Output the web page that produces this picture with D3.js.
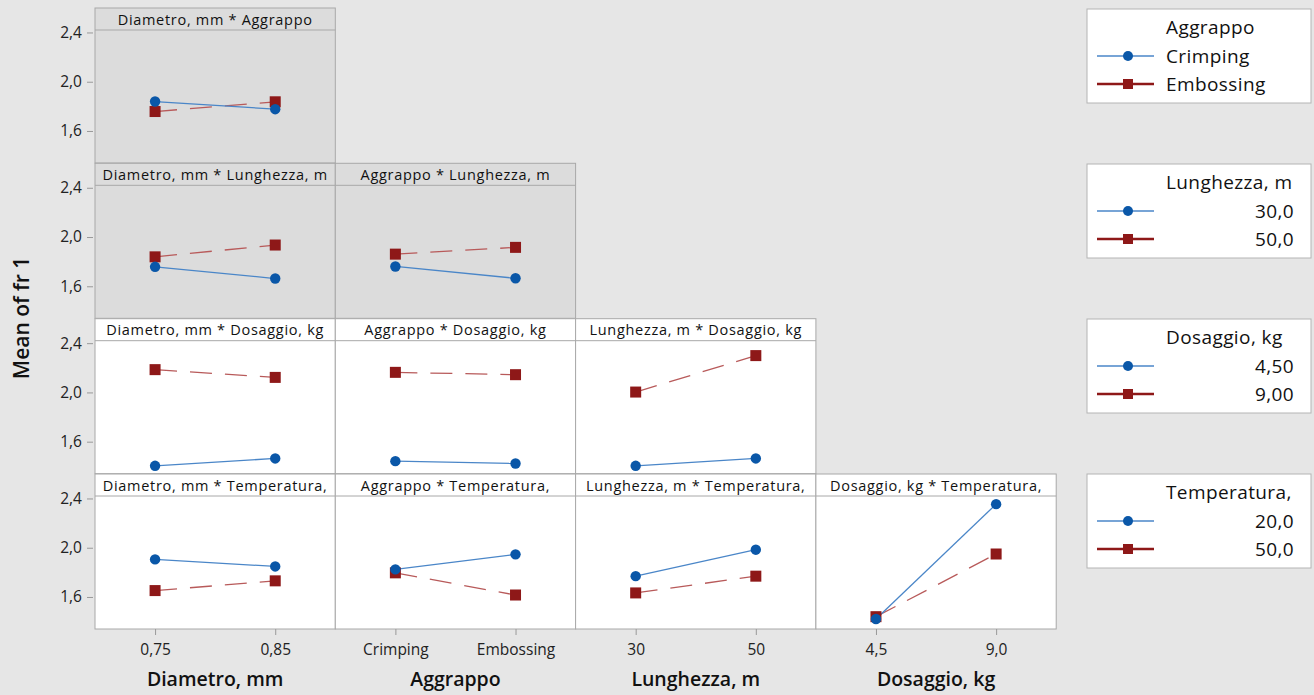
<!DOCTYPE html>
<html><head><meta charset="utf-8">
<script src="https://cdn.jsdelivr.net/npm/d3@7"></script>
<style>
html,body{margin:0;padding:0;background:#e6e6e6;}
svg{display:block;font-family:"Open Sans","Noto Sans",sans-serif;}
</style></head>
<body>
<svg id="chart" width="1314" height="695"></svg>
<script>
// ---- Data ----
const xFactors = ["Diametro, mm", "Aggrappo", "Lunghezza, m", "Dosaggio, kg"];
const xLevels = [["0,75","0,85"],["Crimping","Embossing"],["30","50"],["4,5","9,0"]];
const traceFactors = ["Aggrappo", "Lunghezza, m", "Dosaggio, kg", "Temperatura,"];
const traceLevels = [["Crimping","Embossing"],["30,0","50,0"],["4,50","9,00"],["20,0","50,0"]];
const yTicks = [1.6, 2.0, 2.4];
const yLabel = "Mean of fr 1";

// each panel: [series level 1 (blue), series level 2 (red)], values at x-level 1 and 2
const diamXaggr = [[1.839, 1.777], [1.758, 1.837]];
const diamXlung = [[1.758, 1.663], [1.839, 1.935]];
const aggrXlung = [[1.761, 1.665], [1.861, 1.916]];
const diamXdos  = [[1.404, 1.464], [2.185, 2.122]];
const aggrXdos  = [[1.442, 1.423], [2.163, 2.144]];
const lungXdos  = [[1.404, 1.464], [2.003, 2.299]];
const diamXtemp = [[1.905, 1.848], [1.652, 1.731]];
const aggrXtemp = [[1.824, 1.946], [1.796, 1.616]];
const lungXtemp = [[1.769, 1.984], [1.633, 1.769]];
const dosXtemp  = [[1.421, 2.354], [1.440, 1.949]];

const panels = [
  {row:0, col:0, data:diamXaggr},
  {row:1, col:0, data:diamXlung}, {row:1, col:1, data:aggrXlung},
  {row:2, col:0, data:diamXdos},  {row:2, col:1, data:aggrXdos},  {row:2, col:2, data:lungXdos},
  {row:3, col:0, data:diamXtemp}, {row:3, col:1, data:aggrXtemp}, {row:3, col:2, data:lungXtemp}, {row:3, col:3, data:dosXtemp}
];

// ---- Layout ----
const svg = d3.select("#chart");
const colLeft = c => 95 + c * 240.3;
const colW = 240.3;
const rowTop = [8, 163.3, 318.7, 474];
const rowH = 155;
const headH = 22;
const blue = "#0a57a8", blueLine = "#4a86c8";
const red = "#8e1818", redLine = "#b85a5a";
const fmt = d => d3.format(".1f")(d).replace(".", ",");

const yScale = r => d3.scaleLinear().domain([1.34, 2.42]).range([rowTop[r] + rowH, rowTop[r] + headH]);
const xScale = c => d3.scalePoint().domain(xLevels[c]).range([colLeft(c), colLeft(c) + colW]).padding(0.5);

// panels
panels.forEach(p => {
  const g = svg.append("g");
  const x0 = colLeft(p.col), y0 = rowTop[p.row];
  const gray = p.row < 2;
  g.append("rect").attr("x", x0).attr("y", y0).attr("width", colW).attr("height", rowH)
    .attr("fill", gray ? "#dcdcdc" : "#ffffff").attr("stroke", "#a8a8a8").attr("stroke-width", 1);
  g.append("line").attr("x1", x0).attr("x2", x0 + colW).attr("y1", y0 + headH).attr("y2", y0 + headH)
    .attr("stroke", "#a8a8a8");
  g.append("text").attr("x", x0 + colW / 2).attr("y", y0 + 16.5).attr("text-anchor", "middle")
    .attr("font-size", 14.5).attr("letter-spacing", 0.7).attr("fill", "#111")
    .text(xFactors[p.col] + " * " + traceFactors[p.row]);
  const xs = xScale(p.col), ys = yScale(p.row);
  const line = d3.line().x((d, i) => xs(xLevels[p.col][i])).y(d => ys(d));
  [1, 0].forEach(s => {
    g.append("path").datum(p.data[s]).attr("d", line).attr("fill", "none")
      .attr("stroke", s === 0 ? blueLine : redLine).attr("stroke-width", s === 0 ? 1.3 : 1.3)
      .attr("stroke-dasharray", s === 0 ? null : "22,13");
  });
  [1, 0].forEach(s => {
    p.data[s].forEach((v, i) => {
      const cx = xs(xLevels[p.col][i]), cy = ys(v);
      if (s === 0) g.append("circle").attr("cx", cx).attr("cy", cy).attr("r", 5.2).attr("fill", blue);
      else g.append("rect").attr("x", cx - 5.5).attr("y", cy - 5.5).attr("width", 11).attr("height", 11).attr("fill", red);
    });
  });
});

// y axes
for (let r = 0; r < 4; r++) {
  const ax = svg.append("g").attr("transform", "translate(93,0)")
    .call(d3.axisLeft(yScale(r)).tickValues(yTicks).tickFormat(fmt).tickSize(6).tickPadding(5).tickSizeOuter(0));
  ax.select(".domain").remove();
  ax.selectAll(".tick line").attr("stroke", "#999");
  ax.selectAll(".tick text").attr("font-size", 15.5).attr("fill", "#222").attr("font-weight", 500)
    .attr("font-family", "'Open Sans',sans-serif");
}

// x axes
for (let c = 0; c < 4; c++) {
  const ax = svg.append("g").attr("transform", "translate(0,629)")
    .call(d3.axisBottom(xScale(c)).tickSize(6).tickPadding(9).tickSizeOuter(0));
  ax.select(".domain").remove();
  ax.selectAll(".tick line").attr("stroke", "#999");
  ax.selectAll(".tick text").attr("font-size", 15.5).attr("fill", "#222").attr("font-weight", 500)
    .attr("font-family", "'Open Sans',sans-serif");
  svg.append("text").attr("x", colLeft(c) + colW / 2).attr("y", 686).attr("text-anchor", "middle")
    .attr("font-size", 19.5).attr("font-weight", 600).attr("fill", "#111").text(xFactors[c]);
}

// y label
svg.append("text").attr("transform", "translate(29,318) rotate(-90)").attr("text-anchor", "middle")
  .attr("font-size", 21).attr("font-weight", 600).attr("fill", "#111").text(yLabel);

// legends
const legTop = [9, 164, 319, 474];
traceFactors.forEach((f, k) => {
  const g = svg.append("g");
  const y0 = legTop[k];
  g.append("rect").attr("x", 1087).attr("y", y0).attr("width", 224).attr("height", 94)
    .attr("fill", "#fff").attr("stroke", "#b4b4b4");
  g.append("text").attr("x", 1166).attr("y", y0 + 25).attr("font-size", 19).attr("font-weight", 500)
    .attr("letter-spacing", 0.4).attr("fill", "#111").text(f);
  traceLevels[k].forEach((lv, i) => {
    const cy = y0 + 47 + i * 28;
    g.append("line").attr("x1", 1097).attr("x2", 1154).attr("y1", cy).attr("y2", cy)
      .attr("stroke", i === 0 ? blueLine : red).attr("stroke-width", i === 0 ? 1.3 : 2.5);
    if (i === 0) g.append("circle").attr("cx", 1128).attr("cy", cy).attr("r", 5).attr("fill", blue);
    else g.append("rect").attr("x", 1123).attr("y", cy - 5).attr("width", 10).attr("height", 10).attr("fill", red);
    const t = g.append("text").attr("y", cy + 7).attr("font-size", 19).attr("font-weight", 500)
      .attr("letter-spacing", 0.4).attr("fill", "#111").text(lv);
    if (k === 0) t.attr("x", 1166); else t.attr("x", 1294).attr("text-anchor", "end");
  });
});
</script>
</body></html>
